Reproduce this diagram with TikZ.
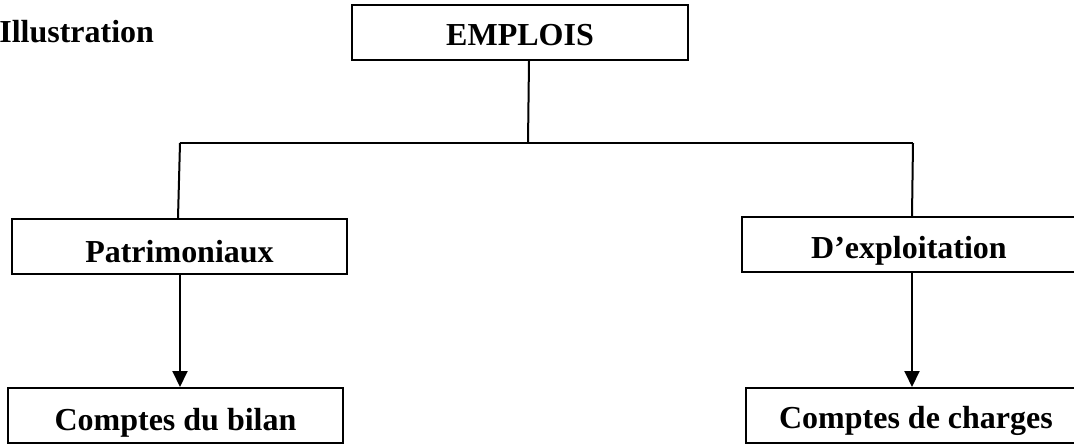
\documentclass[tikz,border=0pt]{standalone}
\usepackage{fontspec}
\setmainfont{Liberation Serif}
\usepackage{tikz}
\usetikzlibrary{positioning, arrows.meta}

\begin{document}
\begin{tikzpicture}[x=1pt, y=-1pt, line width=2pt,
    box/.style={draw, rectangle, minimum width=335pt, minimum height=55pt, inner sep=0pt,
        text height=27pt, text depth=0pt,
        font=\fontsize{32}{36}\selectfont\bfseries},
    arr/.style={-{Triangle[width=15pt,length=16pt]}}]
    \useasboundingbox (0,0) rectangle (1074,444);
    \node[anchor=base west, font=\fontsize{32}{36}\selectfont\bfseries] (titre) at (-5, 43) {Illustration};
    \node[box, minimum width=336pt] (emplois) at (520, 32.5) {EMPLOIS};
    \node[box, text height=31pt] (patri) at (179.5, 246.5) {Patrimoniaux};
    \node[box, text height=29pt] (bilan) at (175.5, 415.5) {Comptes du bilan};
    \node[box, minimum width=360pt] (exploit) at (922, 244.5) {\hspace*{-26pt}D’exploitation};
    \node[box, minimum width=360pt, text height=25pt] (charges) at (926, 415.5) {\hspace*{-20pt}Comptes de charges};
    \coordinate (split) at (528, 143);
    \coordinate (lcorner) at (180, 143);
    \coordinate (rcorner) at (913, 143);
    \draw ([xshift=9pt]emplois.south) -- (split);
    \draw (lcorner) -- (rcorner);
    \draw (lcorner) -- ([xshift=-1.5pt]patri.north);
    \draw (rcorner) -- ([xshift=-10pt]exploit.north);
    \draw[arr] ([xshift=0.5pt]patri.south) -- ([xshift=0.5pt]patri.south |- bilan.north);
    \draw[arr] ([xshift=-10pt]exploit.south) -- ([xshift=-10pt]exploit.south |- charges.north);
\end{tikzpicture}
\end{document}
